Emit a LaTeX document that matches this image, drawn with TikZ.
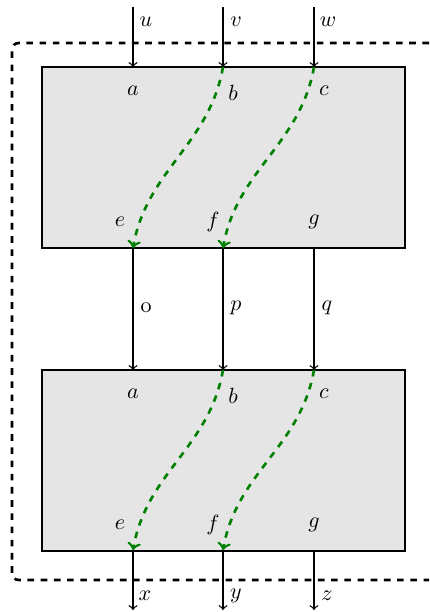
\documentclass[tikz,border=0pt]{standalone}
\begin{document}
\begin{tikzpicture}[x=0.4545pt,y=-0.4545pt,
  blk/.style={draw, thick, fill=black!10, inner sep=0pt, minimum width=165pt, minimum height=82pt},
  wire/.style={draw, semithick, ->},
  flow/.style={draw=green!50!black, very thick, dashed, ->},
  loopline/.style={draw, very thick, dashed, rounded corners=3pt},
  lbl/.style={inner sep=0pt, font=\normalsize}]
\useasboundingbox (0,0) rectangle (429,612);
% feedback loop
\coordinate (lt) at (429,43);
\coordinate (lb) at (429,580);
\draw[loopline] (lt) -- (12,43) -- (12,580) -- (lb);
% boxes
\node[blk] (A) at (223.5,157.5) {};
\node[blk] (B) at (223.5,460.5) {};
% ports
\foreach \n/\x in {1/133,2/223,3/314}{
  \coordinate (Ain\n) at (\x,67);
  \coordinate (Aout\n) at (\x,248);
  \coordinate (Bin\n) at (\x,370);
  \coordinate (Bout\n) at (\x,550);
  \coordinate (src\n) at (\x,7);
  \coordinate (dst\n) at (\x,610);
}
% inputs
\draw[wire] (src1) -- (Ain1);
\draw[wire] (src2) -- (Ain2);
\draw[wire] (src3) -- (Ain3);
\node[lbl] (u) at (146,22) {$u$};
\node[lbl] (v) at (236,22) {$v$};
\node[lbl] (w) at (328,22) {$w$};
% middle
\draw[wire] (Aout1) -- (Bin1);
\draw[wire] (Aout2) -- (Bin2);
\draw[wire] (Aout3) -- (Bin3);
\node[lbl] (o) at (146,308) {o};
\node[lbl] (p) at (236,308) {$p$};
\node[lbl] (q) at (327,308) {$q$};
% outputs
\draw[wire] (Bout1) -- (dst1);
\draw[wire] (Bout2) -- (dst2);
\draw[wire] (Bout3) -- (dst3);
\node[lbl] (x) at (145,596) {$x$};
\node[lbl] (y) at (236,596) {$y$};
\node[lbl] (z) at (327,596) {$z$};
% box labels
\node[lbl] (Aa) at (133,91) {$a$};
\node[lbl] (Ab) at (233,93) {$b$};
\node[lbl] (Ac) at (324,91) {$c$};
\node[lbl] (Ae) at (120,222) {$e$};
\node[lbl] (Af) at (213,222) {$f$};
\node[lbl] (Ag) at (314,222) {$g$};
\node[lbl] (Ba) at (133,394) {$a$};
\node[lbl] (Bb) at (233,396) {$b$};
\node[lbl] (Bc) at (324,394) {$c$};
\node[lbl] (Be) at (120,525) {$e$};
\node[lbl] (Bf) at (213,525) {$f$};
\node[lbl] (Bg) at (314,525) {$g$};
% green flows
\draw[flow] (Ain2) to[out=-100,in=80] (Aout1);
\draw[flow] (Ain3) to[out=-100,in=80] (Aout2);
\draw[flow] (Bin2) to[out=-100,in=80] (Bout1);
\draw[flow] (Bin3) to[out=-100,in=80] (Bout2);
\end{tikzpicture}
\end{document}
